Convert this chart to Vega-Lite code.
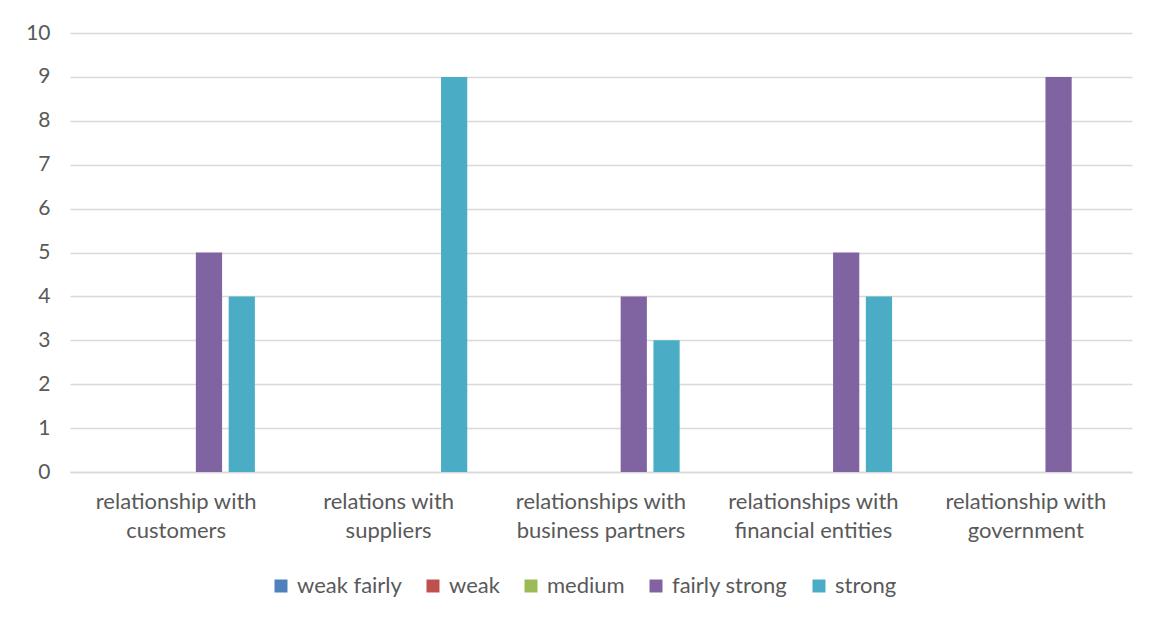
{
  "$schema": "https://vega.github.io/schema/vega-lite/v6.json",
  "width": 1062,
  "height": 439,
  "autosize": {"type": "none"},
  "padding": {"left": 70, "top": 33, "right": 27, "bottom": 146},
  "background": "white",
  "config": {
    "view": {"stroke": null},
    "font": "Lato"
  },
  "data": {
    "values": [
      {"category": "relationship with customers", "level": "fairly strong", "count": 5},
      {"category": "relationship with customers", "level": "strong", "count": 4},
      {"category": "relations with suppliers", "level": "strong", "count": 9},
      {"category": "relationships with business partners", "level": "fairly strong", "count": 4},
      {"category": "relationships with business partners", "level": "strong", "count": 3},
      {"category": "relationships with financial entities", "level": "fairly strong", "count": 5},
      {"category": "relationships with financial entities", "level": "strong", "count": 4},
      {"category": "relationship with government", "level": "fairly strong", "count": 9}
    ]
  },
  "mark": {"type": "bar"},
  "encoding": {
    "x": {
      "field": "category",
      "type": "nominal",
      "sort": ["relationship with customers", "relations with suppliers", "relationships with business partners", "relationships with financial entities", "relationship with government"],
      "scale": {"paddingInner": 0, "paddingOuter": 0},
      "axis": {
        "title": null,
        "labelAngle": 0,
        "labelFont": "Lato",
        "labelFontSize": 22,
        "labelColor": "#595959",
        "labelLineHeight": 29,
        "labelPadding": 19,
        "labelBaseline": "top",
        "ticks": false,
        "domain": true,
        "domainColor": "#d9d9d9",
        "domainWidth": 1.5,
        "labelExpr": "[slice(datum.label, 0, indexof(datum.label, 'with') + 4), slice(datum.label, indexof(datum.label, 'with') + 5)]"
      }
    },
    "xOffset": {
      "field": "level",
      "type": "nominal",
      "scale": {"domain": ["weak fairly", "weak", "medium", "fairly strong", "strong"], "paddingInner": 0.2, "paddingOuter": 0.84}
    },
    "y": {
      "field": "count",
      "type": "quantitative",
      "scale": {"domain": [0, 10]},
      "axis": {
        "title": null,
        "values": [0, 1, 2, 3, 4, 5, 6, 7, 8, 9, 10],
        "labelFont": "Lato",
        "labelFontSize": 21,
        "labelColor": "#595959",
        "labelPadding": 20,
        "labelOverlap": false,
        "ticks": false,
        "domain": false,
        "gridColor": "#d9d9d9",
        "gridWidth": 1.5
      }
    },
    "color": {
      "field": "level",
      "type": "nominal",
      "scale": {"domain": ["weak fairly", "weak", "medium", "fairly strong", "strong"], "range": ["#4F81BD", "#C0504D", "#9BBB59", "#8064A2", "#4BACC6"]},
      "legend": {
        "title": null,
        "orient": "none",
        "direction": "horizontal",
        "legendX": 200,
        "legendY": 542,
        "symbolType": "square",
        "symbolSize": 169,
        "symbolStrokeWidth": 0,
        "labelFont": "Lato",
        "labelFontSize": 22,
        "labelColor": "#595959",
        "labelOffset": 5,
        "columnPadding": 20
      }
    }
  }
}
